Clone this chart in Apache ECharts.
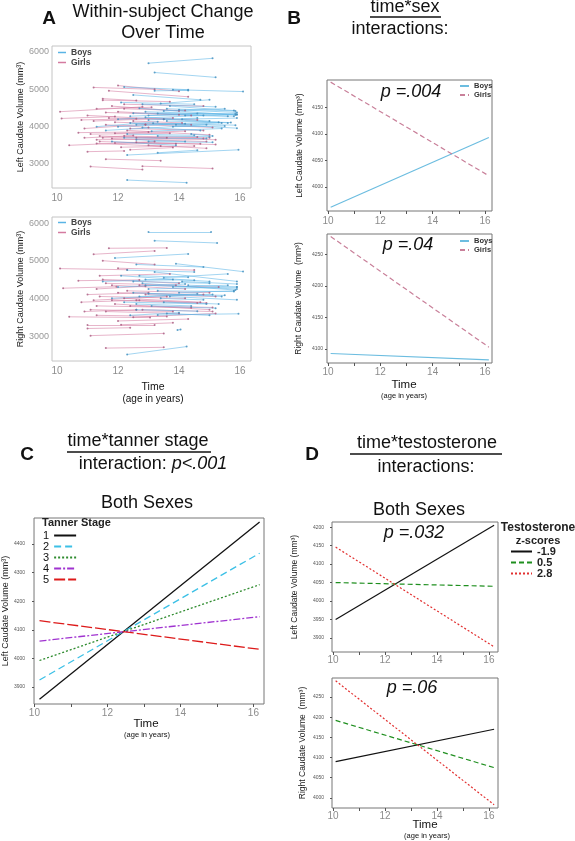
<!DOCTYPE html>
<html><head><meta charset="utf-8">
<script src="https://cdn.jsdelivr.net/npm/echarts@6/dist/echarts.min.js"></script>
<style>html,body{margin:0;padding:0;background:#fff}#c{width:575px;height:841px}</style>
</head><body><div id="c"></div><script>
// ---------- data ----------
const ageTicks = [10, 12, 14, 16];
const yearTicks = [10, 11, 12, 13, 14, 15, 16];
const volTicksA = [3000, 4000, 5000, 6000];
const sexLeftTicks = [4000, 4050, 4100, 4150];
const sexRightTicks = [4100, 4150, 4200, 4250];
const tannerTicks = [3900, 4000, 4100, 4200, 4300, 4400];
const testoLeftTicks = [3900, 3950, 4000, 4050, 4100, 4150, 4200];
const testoRightTicks = [4000, 4050, 4100, 4150, 4200, 4250];

// Panel A: within-subject segments [age1, vol1, age2, vol2]
const leftBoys = [
 [13.0,5700,15.1,5830],[13.2,5450,15.2,5320],[13.8,4990,16.1,4940],[12.2,5060,14.3,4990],
 [13.2,4960,14.3,4970],[12.5,4850,14.7,4720],[13.4,4620,15.0,4720],[12.7,4490,15.85,4310],
 [12.5,4360,15.85,4350],[13.0,4300,15.9,4330],[13.5,4420,15.5,4480],[12.9,4250,15.0,4150],
 [13.15,4090,15.85,4040],[13.6,4150,15.7,4110],[13.9,4050,15.4,4100],[11.3,4000,13.3,4130],
 [12.0,4200,14.8,4300],[12.4,4100,15.9,3960],[12.8,3980,14.7,3900],[11.6,3900,14.9,4050],
 [12.3,3800,14.5,3770],[13.3,3750,15.0,3730],[12.6,3650,14.2,3600],[11.8,3600,13.9,3500],
 [12.3,3240,15.95,3380],[13.3,3300,14.6,3370],[12.3,2570,14.25,2500],[13.7,4550,15.8,4430],
 [14.0,4450,15.9,4380],[12.1,4650,14.5,4600],[14.2,4300,15.6,4280],[13.0,4180,14.6,4230],
 [12.0,4000,14.2,4080],[14.4,3800,15.1,3750],
 [12.9,4400,15.9,4320],[13.3,4350,15.8,4280],[13.5,4200,15.6,4100],[12.6,4050,15.3,4120],
 [13.8,4000,15.5,4020],[12.4,4280,14.6,4350],[13.1,3880,15.4,3950],[12.2,3700,14.9,3680],
 [14.1,4200,15.9,4230],[13.6,4480,15.85,4420],[12.8,4600,15.2,4530],[13.0,3600,15.1,3580]
];
const leftGirls = [
 [10.1,4400,12.8,4530],[10.15,4220,11.9,4270],[10.4,3500,13.2,3600],[10.7,3840,13.0,3860],
 [11.2,5050,13.2,5000],[11.7,4960,14.3,4800],[11.5,4710,13.7,4670],[11.1,2930,12.8,2850],
 [11.6,3130,13.4,3090],[12.8,2940,15.1,2880],[11.0,3330,12.2,3350],[11.3,3650,14.8,3680],
 [11.4,3600,15.2,3520],[12.1,3450,14.5,3480],[11.9,3560,13.9,3540],[11.5,4750,12.6,4700],
 [11.8,4550,14.0,4420],[11.0,4300,13.5,4200],[11.2,4150,13.8,4230],[12.0,4400,14.4,4300],
 [11.6,4050,13.0,3980],[10.9,3950,12.9,4060],[12.3,3900,15.0,3780],[11.4,3750,13.6,3700],
 [12.6,3700,15.2,3650],[12.2,4600,14.8,4550],[11.3,4480,13.1,4520],[12.5,4150,14.1,4100],
 [13.0,3500,14.9,3420],[11.9,3820,14.2,3880],[12.0,5100,14.0,4950],[11.7,4230,14.6,4180],
 [12.4,3380,13.8,3440],[10.9,3700,12.5,3760],
 [11.5,3700,14.6,3720],[11.8,3680,14.9,3600],[12.2,3750,15.0,3700],[11.1,3800,13.7,3820],
 [12.4,3950,14.8,3900],[11.6,4380,14.0,4320],[12.9,4050,15.1,3980],[11.3,3550,13.4,3480],
 [12.6,3580,14.7,3540],[11.9,4120,14.4,4050],[10.8,4180,12.6,4210],[12.2,4480,14.2,4430]
];
const rightBoys = [
 [13.0,5760,15.05,5760],[13.2,5530,15.25,5470],[11.9,5070,14.3,5180],[13.9,4920,16.1,4710],
 [12.3,2510,14.25,2720],[13.3,3560,15.95,3590],[12.6,4900,14.8,4830],[12.1,4600,15.0,4450],
 [13.2,4700,15.9,4450],[13.5,4550,15.6,4650],[12.8,4400,15.85,4220],[13.0,4250,15.9,4300],
 [14.0,4150,15.8,4200],[12.5,4150,15.4,4050],[13.7,4050,15.9,3960],[11.8,4000,14.6,4120],
 [12.2,3900,14.9,3850],[13.1,3800,15.2,3740],[12.6,3700,14.6,3660],[11.5,4450,13.8,4500],
 [12.9,4500,14.5,4480],[14.3,4350,15.9,4300],[12.4,3550,14.0,3620],[13.6,3600,15.0,3550],
 [13.95,3160,14.05,3170],[12.0,4300,14.2,4380],[13.4,4000,14.8,3960],[12.7,4600,14.3,4560],
 [12.9,4350,15.9,4250],[13.3,4200,15.8,4180],[12.5,4450,15.0,4400],[13.8,4300,15.6,4350],
 [12.7,4050,15.1,4100],[13.5,3900,15.3,3850],[12.3,4750,14.5,4700],[14.1,4450,15.9,4380],
 [13.0,4120,15.5,4080],[12.6,3850,14.4,3800]
];
const rightGirls = [
 [10.1,4790,12.3,4760],[10.2,4270,11.95,4310],[10.4,3510,13.05,3490],[10.7,4470,12.7,4490],
 [11.2,5170,13.2,5260],[11.7,5330,13.6,5340],[11.5,5000,13.2,4900],[11.1,3010,13.5,3070],
 [11.6,2680,13.5,2700],[11.0,3290,13.2,3290],[11.0,3200,12.4,3220],[11.3,3800,14.4,3750],
 [11.2,3950,13.6,4050],[11.8,4350,14.2,4250],[11.0,4100,13.0,4150],[12.0,4800,14.5,4750],
 [12.3,4200,15.0,4150],[11.6,3650,14.0,3600],[12.5,3500,15.2,3600],[12.0,3400,14.3,3450],
 [11.4,4600,13.7,4650],[12.2,4000,14.7,3900],[11.9,3850,15.0,3700],[12.7,4350,15.3,4300],
 [11.3,4250,12.9,4320],[10.9,3650,12.6,3700],[12.8,3700,15.1,3650],[11.5,4500,14.0,4400],
 [12.1,3300,13.8,3350],
 [11.4,4050,14.2,4000],[11.8,3950,14.6,3880],[12.4,3800,15.1,3760],[11.1,3700,13.8,3650],
 [12.0,4150,14.8,4100],[11.6,4400,13.9,4350],[12.6,3950,14.9,3880],[11.3,3550,13.6,3520],
 [12.9,4100,15.2,4050],[10.8,3900,12.7,3950]
];

// Panel B: time*sex fitted lines
const sexAges = [10.1, 16.15];
const sexLeftBoys = [3962, 4093];
const sexLeftGirls = [4197, 4021];
const sexRightBoys = [4093, 4083];
const sexRightGirls = [4278, 4103];

// Panel C: time*tanner stage
const tannerAges = [10.14, 16.17];
const tanner1 = [3858, 4477];
const tanner2 = [3925, 4368];
const tanner3 = [3993, 4258];
const tanner4 = [4061, 4146];
const tanner5 = [4132, 4032];

// Panel D: time*testosterone
const testoAges = [10.1, 16.2];
const testoLeftLow = [3950, 4205];
const testoLeftMid = [4050, 4040];
const testoLeftHigh = [4146, 3876];
const testoRightLow = [4090, 4170];
const testoRightMid = [4192, 4075];
const testoRightHigh = [4290, 3983];

// ---------- helpers ----------
const FONT = '"Liberation Sans", Arial, sans-serif';
function pts(ages, vals) { return ages.map((a, i) => [a, vals[i]]); }
const plain = v => String(v);

function xAx(gi, min, max, o) {
  return {type: 'value', gridIndex: gi, min: min, max: max,
    splitLine: {show: false}, axisLine: {show: false},
    axisTick: {show: !!o.tick, length: 3, customValues: yearTicks, lineStyle: {color: '#555', width: 1}},
    axisLabel: {customValues: ageTicks, formatter: plain, fontSize: o.fs || 10, color: '#8c8c8c', margin: o.margin, fontFamily: FONT}};
}
function yAx(gi, min, max, ticks, o) {
  return {type: 'value', gridIndex: gi, min: min, max: max,
    name: o.name, nameLocation: 'middle', nameGap: o.nameGap,
    nameTextStyle: {fontSize: o.nfs, color: '#222', fontFamily: FONT},
    splitLine: {show: false}, axisLine: {show: false},
    axisTick: {show: !!o.tick, length: 2, customValues: ticks, lineStyle: {color: '#555', width: 1}},
    axisLabel: {customValues: ticks, formatter: plain, fontSize: o.fs, color: o.lc || '#555', margin: o.margin, fontFamily: FONT}};
}
function segSeries(name, segs, gi, color, dot) {
  return [
    {type: 'lines', name: name, coordinateSystem: 'cartesian2d', xAxisIndex: gi, yAxisIndex: gi,
     data: segs.map(s => ({coords: [[s[0], s[1]], [s[2], s[3]]]})),
     lineStyle: {color: color, width: 0.8, opacity: 0.7}, itemStyle: {color: color}, silent: true},
    {type: 'scatter', name: name, xAxisIndex: gi, yAxisIndex: gi,
     data: segs.flatMap(s => [[s[0], s[1]], [s[2], s[3]]]),
     symbolSize: 2, itemStyle: {color: dot, opacity: 0.8}, silent: true}
  ];
}
function fit(name, ages, vals, gi, color, type, w) {
  return {type: 'line', name: name, xAxisIndex: gi, yAxisIndex: gi, data: pts(ages, vals),
    symbol: 'none', lineStyle: {color: color, width: w || 1.2, type: type || 'solid'},
    itemStyle: {color: color}, silent: true, animation: false};
}

const boyC = '#5ab4e5', girlC = '#d47ba0';
const boyL = '#6cbde0', girlL = '#c9809a';

const grids = [
  {left: 52, top: 46, width: 199, height: 142, show: true, borderColor: '#c4c4c4', borderWidth: 1},
  {left: 52, top: 217, width: 199, height: 144, show: true, borderColor: '#c4c4c4', borderWidth: 1},
  {left: 327, top: 80, width: 165, height: 131, show: true, borderColor: '#777', borderWidth: 1},
  {left: 327, top: 234, width: 165, height: 129, show: true, borderColor: '#777', borderWidth: 1},
  {left: 32, top: 518, width: 232, height: 186, show: true, borderColor: '#777', borderWidth: 1},
  {left: 332, top: 522, width: 166, height: 130, show: true, borderColor: '#777', borderWidth: 1},
  {left: 332, top: 678, width: 166, height: 130, show: true, borderColor: '#777', borderWidth: 1}
];

const xAxes = [
  xAx(0, 9.836, 16.36, {margin: 5, fs: 10}),
  xAx(1, 9.836, 16.36, {margin: 5, fs: 10}),
  xAx(2, 9.96, 16.27, {margin: 5, tick: true}),
  xAx(3, 9.96, 16.27, {margin: 4, tick: true}),
  xAx(4, 9.99, 16.29, {margin: 4, tick: true}),
  xAx(5, 9.96, 16.35, {margin: 3, tick: true}),
  xAx(6, 9.96, 16.35, {margin: 3, tick: true})
];
const yAxes = [
  yAx(0, 2357, 6160, volTicksA, {name: 'Left Caudate Volume (mm³)', nameGap: 22, nfs: 9, fs: 9, lc: '#999', margin: 3}),
  yAx(1, 2337, 6160, volTicksA, {name: 'Right Caudate Volume (mm³)', nameGap: 22, nfs: 9, fs: 9, lc: '#999', margin: 3}),
  yAx(2, 3955, 4201, sexLeftTicks, {name: 'Left Caudate Volume (mm³)', nameGap: 23, nfs: 8.5, fs: 5, margin: 4, tick: true}),
  yAx(3, 4078, 4282, sexRightTicks, {name: 'Right Caudate Volume  (mm³)', nameGap: 24, nfs: 8.5, fs: 5, margin: 4, tick: true}),
  yAx(4, 3841, 4491, tannerTicks, {name: 'Left Caudate Volume (mm³)', nameGap: 20, nfs: 9, fs: 5, margin: 9, tick: true}),
  yAx(5, 3862, 4214, testoLeftTicks, {name: 'Left Caudate Volume (mm³)', nameGap: 33, nfs: 8.5, fs: 5, margin: 8, tick: true}),
  yAx(6, 3975, 4297, testoRightTicks, {name: 'Right Caudate Volume  (mm³)', nameGap: 25, nfs: 8.5, fs: 5, margin: 8, tick: true})
];

const series = [].concat(
  segSeries('Girls', leftGirls, 0, girlC, '#a85a80'),
  segSeries('Boys', leftBoys, 0, boyC, '#3f8dbd'),
  segSeries('Girls', rightGirls, 1, girlC, '#a85a80'),
  segSeries('Boys', rightBoys, 1, boyC, '#3f8dbd'),
  [
    fit('Boys ', sexAges, sexLeftBoys, 2, boyL, 'solid', 1.2),
    fit('Girls ', sexAges, sexLeftGirls, 2, girlL, [5, 3], 1.2),
    fit('Boys ', sexAges, sexRightBoys, 3, boyL, 'solid', 1.2),
    fit('Girls ', sexAges, sexRightGirls, 3, girlL, [5, 3], 1.2),
    fit('1', tannerAges, tanner1, 4, '#111', 'solid', 1.3),
    fit('2', tannerAges, tanner2, 4, '#3cc0e6', [7, 4], 1.3),
    fit('3', tannerAges, tanner3, 4, '#2e8b2e', [2, 2], 1.3),
    fit('4', tannerAges, tanner4, 4, '#a033d0', [7, 2, 2, 2], 1.3),
    fit('5', tannerAges, tanner5, 4, '#dd1a1a', [11, 3], 1.3),
    fit('-1.9', testoAges, testoLeftLow, 5, '#111', 'solid', 1.2),
    fit('0.5', testoAges, testoLeftMid, 5, '#1f8f1f', [5, 3], 1.2),
    fit('2.8', testoAges, testoLeftHigh, 5, '#e23030', [2, 2], 1.2),
    fit('-1.9', testoAges, testoRightLow, 6, '#111', 'solid', 1.2),
    fit('0.5', testoAges, testoRightMid, 6, '#1f8f1f', [5, 3], 1.2),
    fit('2.8', testoAges, testoRightHigh, 6, '#e23030', [2, 2], 1.2)
  ]
);

function lg(data, left, top, o) {
  return Object.assign({data: data, orient: 'vertical', left: left, top: top, padding: 0,
    selectedMode: false, itemGap: o.gap, itemWidth: o.w, itemHeight: o.h,
    itemStyle: {opacity: 0},
    textStyle: {fontSize: o.fs, fontWeight: o.fw || 'bold', color: o.c || '#333', fontFamily: FONT}}, o.extra || {});
}
const legends = [
  lg(['Boys', 'Girls'], 58, 48, {gap: 1, w: 8, h: 1.5, fs: 8.5, c: '#444', extra: {icon: 'rect', itemStyle: {borderWidth: 0}}}),
  lg(['Boys', 'Girls'], 58, 218, {gap: 1, w: 8, h: 1.5, fs: 8.5, c: '#444', extra: {icon: 'rect', itemStyle: {borderWidth: 0}}}),
  lg(['Boys ', 'Girls '], 459, 82, {gap: 1, w: 9, h: 6, fs: 7.5, c: '#333'}),
  lg(['Boys ', 'Girls '], 459, 237, {gap: 1, w: 9, h: 6, fs: 7.5, c: '#333'}),
  lg(['1', '2', '3', '4', '5'], 43, 530, {gap: 0, w: 22, h: 10, fs: 11, fw: 'normal', c: '#111', extra: {align: 'right'}}),
  lg(['-1.9', '0.5', '2.8'], 510, 546, {gap: 0, w: 21, h: 10, fs: 11, fw: 'bold', c: '#222'})
];

function tx(t, x, y, fs, o) {
  o = o || {};
  return {type: 'text', x: x, y: y, silent: true,
    style: {text: t, fontSize: fs, fontFamily: FONT, fontWeight: o.fw || 'normal',
      fontStyle: o.it ? 'italic' : 'normal', fill: o.c || '#111',
      align: o.al || 'center', verticalAlign: 'middle', rich: o.rich}};
}
function ul(x1, x2, y) {
  return {type: 'line', silent: true, shape: {x1: x1, y1: y, x2: x2, y2: y}, style: {stroke: '#111', lineWidth: 1.3}};
}
const graphics = [
  tx('A', 49, 19, 19, {fw: 'bold'}),
  tx('Within-subject Change', 163, 12, 18),
  tx('Over Time', 163, 33, 18),
  tx('Time', 153, 387, 10.5),
  tx('(age in years)', 153, 399, 10),
  tx('B', 294, 19, 19, {fw: 'bold'}),
  tx('time*sex', 405, 7, 18), ul(370, 441, 17),
  tx('interactions:', 400, 29, 18),
  tx('p =.004', 411, 92, 18, {it: true}),
  tx('p =.04', 408, 245, 18, {it: true}),
  tx('Time', 404, 385, 11.5),
  tx('(age in years)', 404, 396, 7.5),
  tx('C', 27, 455, 19, {fw: 'bold'}),
  tx('time*tanner stage', 138, 441, 18), ul(67, 211, 452),
  tx('interaction: {i|p<.001}', 153, 464, 18, {rich: {i: {fontStyle: 'italic', fontSize: 18, fontFamily: FONT}}}),
  tx('Both Sexes', 147, 503, 18),
  tx('Tanner Stage', 42, 523, 11, {al: 'left', fw: 'bold', c: '#222'}),
  tx('Time', 146, 724, 11.5),
  tx('(age in years)', 147, 735, 7.5),
  tx('D', 312, 455, 19, {fw: 'bold'}),
  tx('time*testosterone', 427, 443, 18), ul(350, 502, 454),
  tx('interactions:', 426, 467, 18),
  tx('Both Sexes', 419, 510, 18),
  tx('p =.032', 414, 533, 18, {it: true}),
  tx('p =.06', 412, 688, 18, {it: true}),
  tx('Testosterone', 538, 528, 12, {fw: 'bold', c: '#222'}),
  tx('z-scores', 538, 541, 11, {fw: 'bold', c: '#222'}),
  tx('Time', 425, 825, 11.5),
  tx('(age in years)', 427, 836, 7.5)
];

const chart = echarts.init(document.getElementById('c'), null, {renderer: 'canvas'});
chart.setOption({
  animation: false,
  backgroundColor: '#fff',
  textStyle: {fontFamily: FONT},
  grid: grids, xAxis: xAxes, yAxis: yAxes, series: series,
  legend: legends, graphic: graphics
});
</script></body></html>
